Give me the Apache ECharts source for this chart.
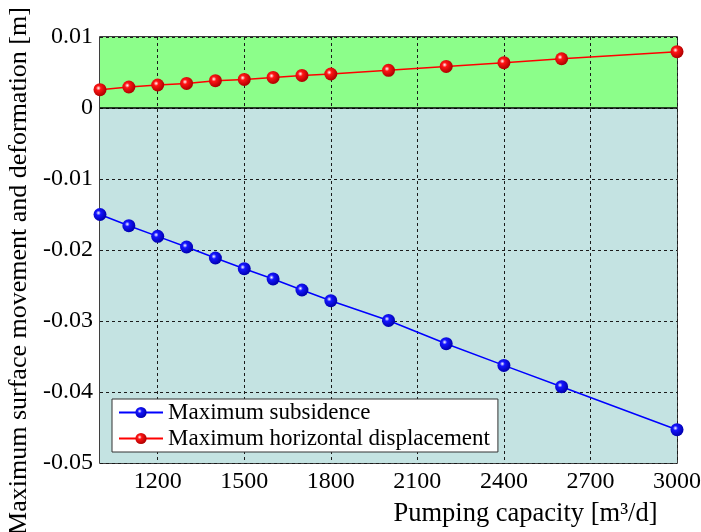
<!DOCTYPE html>
<html>
<head>
<meta charset="utf-8">
<script src="https://cdn.jsdelivr.net/npm/echarts@6/dist/echarts.min.js"></script>
<style>html,body{margin:0;padding:0;background:#fff}#c{width:701px;height:532px}</style>
</head>
<body>
<div id="c"></div>
<script>
const pumping = [1000, 1100, 1200, 1300, 1400, 1500, 1600, 1700, 1800, 2000, 2200, 2400, 2600, 3000];
const subsidence = [-0.0150, -0.01658, -0.01808, -0.01958, -0.02113, -0.02263, -0.02408, -0.02563, -0.02714, -0.02992, -0.0332, -0.03625, -0.03925, -0.04531];
const horizontal = [0.00258, 0.00296, 0.00324, 0.00346, 0.00385, 0.00403, 0.00431, 0.00459, 0.00479, 0.0053, 0.00586, 0.00638, 0.00694, 0.00793];
const xTicks = [1200, 1500, 1800, 2100, 2400, 2700, 3000];
const seriesNames = ['Maximum subsidence', 'Maximum horizontal displacement'];
const xName = 'Pumping capacity [m³/d]';
const yName = 'Maximum surface movement and deformation [m]';

const FONT = 'Liberation Serif';
function ball(c, dark) {
  return {type: 'radial', x: 0.38, y: 0.38, r: 0.62,
    colorStops: [{offset: 0, color: '#ffffff'}, {offset: 0.3, color: c}, {offset: 1, color: dark}]};
}
const chart = echarts.init(document.getElementById('c'));
chart.setOption({
  animation: false,
  grid: {left: 100, right: 24, top: 37, bottom: 69, outerBoundsMode: 'none', containLabel: false,
    show: true, borderColor: '#000', borderWidth: 1.5, backgroundColor: 'transparent'},
  xAxis: {
    type: 'value', min: 1000, max: 3000,
    axisLine: {show: false},
    axisTick: {show: false, customValues: xTicks},
    axisLabel: {customValues: xTicks, formatter: v => String(v), color: '#000', fontFamily: FONT, fontSize: 24, margin: 7},
    splitLine: {show: true, lineStyle: {type: [3, 3], color: '#1a1a1a', width: 1}},
    name: xName, nameLocation: 'middle', nameGap: 38,
    nameTextStyle: {color: '#000', fontFamily: FONT, fontSize: 26.5, padding: [0, 0, 0, 274]}
  },
  yAxis: {
    type: 'value', min: -0.05, max: 0.01, interval: 0.01,
    axisLine: {show: false},
    axisTick: {show: false},
    axisLabel: {color: '#000', fontFamily: FONT, fontSize: 24, margin: 7},
    splitLine: {show: true, lineStyle: {type: [3, 3], color: '#1a1a1a', width: 1}},
    splitArea: {show: true, areaStyle: {color: ['#c4e3e2', '#c4e3e2', '#c4e3e2', '#c4e3e2', '#c4e3e2', '#8cfe8a']}},
    name: yName, nameLocation: 'middle', nameGap: 66,
    nameTextStyle: {color: '#000', fontFamily: FONT, fontSize: 26, padding: [0, 42, 0, 0]}
  },
  legend: {
    orient: 'vertical', left: 112, top: 399,
    backgroundColor: '#fff', borderColor: '#333', borderWidth: 1, borderRadius: 0,
    padding: [2, 8, 2, 6], itemGap: 3, itemWidth: 44, itemHeight: 14,
    textStyle: {color: '#000', fontFamily: FONT, fontSize: 23},
    data: seriesNames
  },
  series: [
    {
      name: seriesNames[0], type: 'line', data: pumping.map((x, i) => [x, subsidence[i]]),
      symbol: 'circle', symbolSize: 13,
      lineStyle: {color: '#0000ff', width: 1.5},
      itemStyle: {color: ball('#1515ff', '#0000b0'), borderWidth: 0},
      markLine: {silent: true, symbol: 'none', label: {show: false},
        lineStyle: {color: '#000', type: 'solid', width: 1.5}, data: [{yAxis: 0}]}
    },
    {
      name: seriesNames[1], type: 'line', data: pumping.map((x, i) => [x, horizontal[i]]),
      symbol: 'circle', symbolSize: 13,
      lineStyle: {color: '#ff0000', width: 1.5},
      itemStyle: {color: ball('#ff1515', '#b00000'), borderWidth: 0}
    }
  ]
});
</script>
</body>
</html>
